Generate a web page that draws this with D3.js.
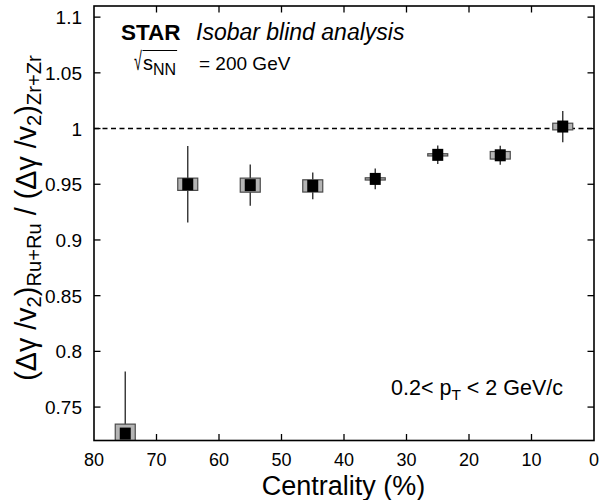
<!DOCTYPE html>
<html>
<head>
<meta charset="utf-8">
<script src="https://cdn.jsdelivr.net/npm/d3@7"></script>
<style>
  html, body { margin: 0; padding: 0; background: #fff; }
  svg { display: block; font-family: "Liberation Sans", Arial, Helvetica, sans-serif; }
</style>
</head>
<body>
<svg id="chart" width="600" height="500"></svg>
<script>
// ---- data ----
const centrality = [75, 65, 55, 45, 35, 25, 15, 5];
const ratio      = [0.7262, 0.9500, 0.9492, 0.9485, 0.9548, 0.9764, 0.9760, 1.0018];
const statErr    = [0.0557, 0.0343, 0.0186, 0.0120, 0.0093, 0.0083, 0.0085, 0.0140];
const sysErr     = [0.0085, 0.0055, 0.0063, 0.0055, 0.0010, 0.0010, 0.0034, 0.0030];
const sysHalfWidth = 1.6; // centrality units
const xTicks = [80, 70, 60, 50, 40, 30, 20, 10, 0];
const yTicks = [0.75, 0.8, 0.85, 0.9, 0.95, 1, 1.05, 1.1];
const yTickLabels = ["0.75", "0.8", "0.85", "0.9", "0.95", "1", "1.05", "1.1"];
const referenceLevel = 1;

const svg = d3.select("#chart");
const L = 94, R = 594, T = 6, B = 440.5;
const x = d3.scaleLinear().domain([80, 0]).range([L, R]);
const y = d3.scaleLinear().domain([0.72, 1.11]).range([B, T]);

const data = centrality.map((c, i) => ({c, v: ratio[i], s: statErr[i], sy: sysErr[i]}));

svg.append("defs").append("clipPath").attr("id", "clip")
  .append("rect").attr("x", L).attr("y", T).attr("width", R - L).attr("height", B - T);

const plot = svg.append("g").attr("clip-path", "url(#clip)");

// dashed reference line
plot.append("line")
  .attr("x1", x(80)).attr("x2", x(0))
  .attr("y1", y(referenceLevel)).attr("y2", y(referenceLevel))
  .attr("stroke", "#000").attr("stroke-width", 1.6)
  .attr("stroke-dasharray", "5,3.5");

// stat error bars
plot.selectAll("line.err").data(data).join("line").attr("class", "err")
  .attr("x1", d => x(d.c)).attr("x2", d => x(d.c))
  .attr("y1", d => y(d.v + d.s)).attr("y2", d => y(d.v - d.s))
  .attr("stroke", "#333").attr("stroke-width", 1.4);

// systematic boxes
plot.selectAll("rect.sys").data(data).join("rect").attr("class", "sys")
  .attr("x", d => x(d.c + sysHalfWidth))
  .attr("width", d => x(d.c - sysHalfWidth) - x(d.c + sysHalfWidth))
  .attr("y", d => y(d.v + d.sy))
  .attr("height", d => Math.max(1, y(d.v - d.sy) - y(d.v + d.sy)))
  .attr("fill", "#b4b4b4").attr("stroke", "#4a4a4a").attr("stroke-width", 1.2);

// markers
const ms = 12;
plot.selectAll("rect.mk").data(data).join("rect").attr("class", "mk")
  .attr("x", d => x(d.c) - ms / 2 + 0.5).attr("y", d => y(d.v) - ms / 2)
  .attr("width", ms - 1).attr("height", ms)
  .attr("fill", "#000");

// frame
const frame = svg.append("g");
frame.append("rect").attr("x", L).attr("y", T).attr("width", R - L).attr("height", B - T)
  .attr("fill", "none").attr("stroke", "#000").attr("stroke-width", 1.6);

const tl = 6.5;
frame.selectAll("line.xtb").data(xTicks.slice(1, -1)).join("line")
  .attr("x1", d => x(d)).attr("x2", d => x(d)).attr("y1", B).attr("y2", B - tl)
  .attr("stroke", "#000").attr("stroke-width", 1.3);
frame.selectAll("line.xtt").data(xTicks.slice(1, -1)).join("line")
  .attr("x1", d => x(d)).attr("x2", d => x(d)).attr("y1", T).attr("y2", T + tl)
  .attr("stroke", "#000").attr("stroke-width", 1.3);
frame.selectAll("line.ytl").data(yTicks).join("line")
  .attr("x1", L).attr("x2", L + tl).attr("y1", d => y(d)).attr("y2", d => y(d))
  .attr("stroke", "#000").attr("stroke-width", 1.3);
frame.selectAll("line.ytr").data(yTicks).join("line")
  .attr("x1", R).attr("x2", R - tl).attr("y1", d => y(d)).attr("y2", d => y(d))
  .attr("stroke", "#000").attr("stroke-width", 1.3);

// tick labels
svg.selectAll("text.xl").data(xTicks).join("text")
  .attr("x", d => x(d)).attr("y", 466)
  .attr("text-anchor", "middle").attr("font-size", 18).text(d => d);
svg.selectAll("text.yl").data(yTicks).join("text")
  .attr("x", 82).attr("y", d => y(d) + 7)
  .attr("text-anchor", "end").attr("font-size", 19).text((d, i) => yTickLabels[i]);

// axis titles
svg.append("text").attr("x", 343.5).attr("y", 495)
  .attr("text-anchor", "middle").attr("font-size", 27).text("Centrality (%)");

const yt = svg.append("text")
  .attr("transform", "translate(36,218) rotate(-90)")
  .attr("text-anchor", "middle").attr("font-size", 28.7);
const sub = 20.2, sh = 5;
yt.append("tspan").text("(\u0394\u03b3 /v");
yt.append("tspan").attr("font-size", sub).attr("dy", sh).text("2");
yt.append("tspan").attr("dy", -sh).text(")");
yt.append("tspan").attr("font-size", sub).attr("dy", sh).text("Ru+Ru");
yt.append("tspan").attr("dy", -sh).text(" / (\u0394\u03b3 /v");
yt.append("tspan").attr("font-size", sub).attr("dy", sh).text("2");
yt.append("tspan").attr("dy", -sh).text(")");
yt.append("tspan").attr("font-size", sub).attr("dy", sh).text("Zr+Zr");

// annotations
svg.append("text").attr("x", 121).attr("y", 40)
  .attr("font-size", 22.5).attr("font-weight", "bold").text("STAR");
svg.append("text").attr("x", 196).attr("y", 40)
  .attr("font-size", 23).attr("font-style", "italic").text("Isobar blind analysis");

svg.append("text").attr("transform", "translate(134,70) scale(0.75,1.35)")
  .attr("font-size", 19).text("\u221a");
const sTxt = svg.append("text").attr("x", 143).attr("y", 70).attr("font-size", 20);
sTxt.append("tspan").text("s");
sTxt.append("tspan").attr("font-size", 16).attr("dy", 5).text("NN");
const sb = sTxt.node().getBBox();
svg.append("line").attr("x1", 142.5).attr("x2", sb.x + sb.width + 1)
  .attr("y1", 50.5).attr("y2", 50.5).attr("stroke", "#000").attr("stroke-width", 1.2);
svg.append("text").attr("x", 199).attr("y", 70).attr("font-size", 19).text("= 200 GeV");

const pt = svg.append("text").attr("x", 391).attr("y", 395).attr("font-size", 21.5);
pt.append("tspan").text("0.2< p");
pt.append("tspan").attr("font-size", 15.5).attr("dy", 5).text("T");
pt.append("tspan").attr("dy", -5).text(" < 2 GeV/c");
</script>
</body>
</html>
